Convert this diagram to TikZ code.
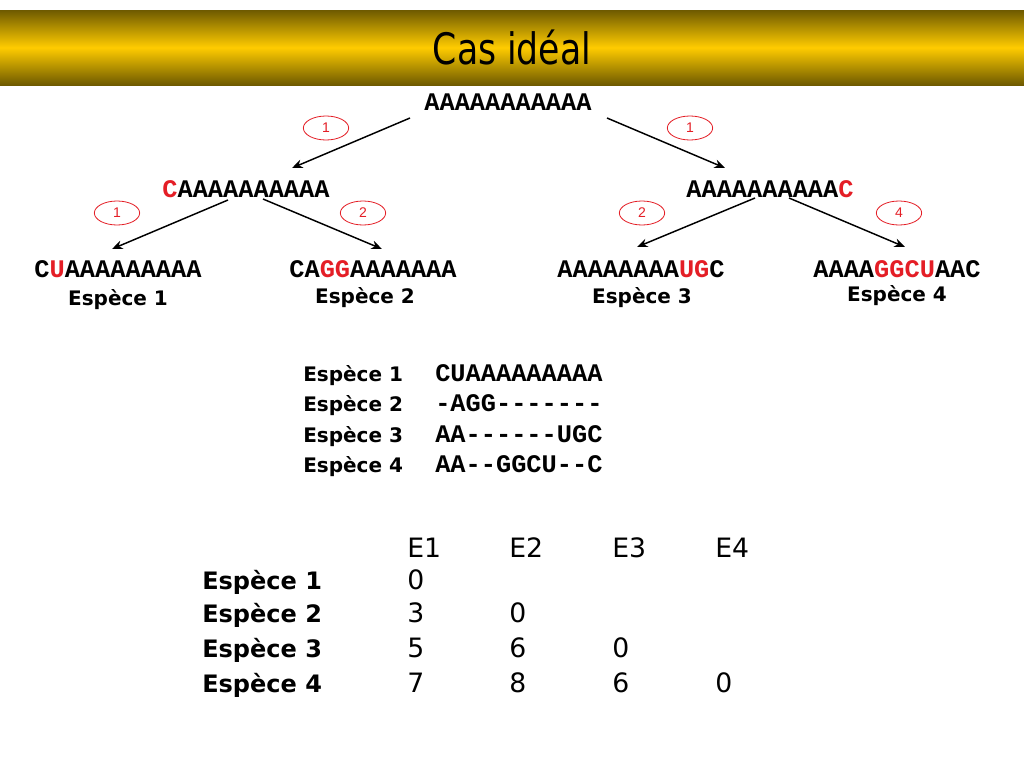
\documentclass[tikz,border=0pt]{standalone}
\usepackage{graphicx}
\usepackage{fontspec}
\setmainfont{DejaVu Sans}
\setmonofont{Liberation Mono}
\newfontfamily\numfont{Liberation Sans}
\usetikzlibrary{shapes,arrows,arrows.meta,calc}
\definecolor{mutred}{RGB}{228,30,38}
\definecolor{barbrown}{RGB}{110,90,0}
\definecolor{bargold}{RGB}{255,204,0}
\newcommand{\mt}[1]{\textcolor{mutred}{#1}}
\tikzset{%
	seq/.style     = {anchor=base, inner sep=0pt,
		font=\ttfamily\bfseries\fontsize{19}{20}\selectfont}, % Sequence
	spec/.style    = {anchor=base, inner sep=0pt,
		font=\bfseries\fontsize{15}{17}\selectfont}, % Species
	mut/.style     = {draw=mutred, ellipse, line width=0.6pt, minimum width=34pt,
		minimum height=18pt, inner sep=0pt, text=mutred,
		font=\numfont\fontsize{10.5}{12}\selectfont}, % Mutations
	rowname/.style = {anchor=base west, inner sep=0pt,
		font=\bfseries\fontsize{18}{20}\selectfont}, % Row of the matrix
	mat/.style     = {anchor=base west, inner sep=0pt,
		font=\fontsize{20}{22}\selectfont}, % Distance
	evol/.style    = {line width=1.1pt, -{Stealth[length=8pt,width=6.5pt]}} % Descent
}

\begin{document}
\begin{tikzpicture}[x=0.75pt,y=-0.75pt]
	\fill[white] (0,0) rectangle (1024,768);
	\useasboundingbox (0,0) rectangle (1024,768);
	\shade[top color=barbrown, bottom color=barbrown, middle color=bargold]
		(0,10) rectangle (1024,85);
	\node (title) at (512,47) {\scalebox{1}[1.25]{\fontsize{26}{30}\selectfont Cas idéal}};

	% tree
	\node[seq] (root) at (508,110) {AAAAAAAAAAA};
	\node[seq] (anc1) at (246,197) {\mt{C}AAAAAAAAAA};
	\node[seq] (anc2) at (770,197) {AAAAAAAAAA\mt{C}};
	\node[seq] (sp1)  at (118,277) {C\mt{U}AAAAAAAAA};
	\node[seq] (sp2)  at (373,277) {CA\mt{GG}AAAAAAA};
	\node[seq] (sp3)  at (641,277) {AAAAAAAA\mt{UG}C};
	\node[seq] (sp4)  at (897,277) {AAAA\mt{GGCU}AAC};

	\node[spec] (name1) at (118,305) {Espèce 1};
	\node[spec] (name2) at (365,303) {Espèce 2};
	\node[spec] (name3) at (642,303) {Espèce 3};
	\node[spec] (name4) at (897,301) {Espèce 4};

	\draw[evol] ($(root.base)+(-98,8)$) -- ($(anc1.base)+(46,-29)$);
	\draw[evol] ($(root.base)+(99,8)$)  -- ($(anc2.base)+(-45,-29)$);
	\draw[evol] ($(anc1.base)+(-18,3)$) -- ($(sp1.base)+(-6,-28)$);
	\draw[evol] ($(anc1.base)+(17,2)$)  -- ($(sp2.base)+(9,-28)$);
	\draw[evol] ($(anc2.base)+(-15,1)$) -- ($(sp3.base)+(-4,-30)$);
	\draw[evol] ($(anc2.base)+(19,1)$)  -- ($(sp4.base)+(8,-30)$);

	\node[mut] (n1) at (326,128) {1};
	\node[mut] (n2) at (690,128) {1};
	\node[mut] (n3) at (117,213) {1};
	\node[mut] (n4) at (363,213) {2};
	\node[mut] (n5) at (642,213) {2};
	\node[mut] (n6) at (899,213) {4};

	% alignment
	\node[spec, anchor=base west] (al1) at (303,381) {Espèce 1};
	\node[spec, anchor=base west] (al2) at (303,411) {Espèce 2};
	\node[spec, anchor=base west] (al3) at (303,442) {Espèce 3};
	\node[spec, anchor=base west] (al4) at (303,472) {Espèce 4};
	\node[seq, anchor=base west] (as1) at (435,381) {CUAAAAAAAAA};
	\node[seq, anchor=base west] (as2) at (435,411) {-AGG-------};
	\node[seq, anchor=base west] (as3) at (435,442) {AA------UGC};
	\node[seq, anchor=base west] (as4) at (435,472) {AA--GGCU--C};

	% distances
	\foreach \j/\x in {1/407,2/509,3/612,4/715}
		\node[mat] (e\j) at (\x,557) {E\j};
	\foreach \i/\y in {1/589,2/622,3/657,4/692}
		\node[rowname] (r\i) at (202,\y) {Espèce \i};
	\foreach \i/\j/\v in {1/1/0,2/1/3,2/2/0,3/1/5,3/2/6,3/3/0,4/1/7,4/2/8,4/3/6,4/4/0}
		\node[mat] (d\i\j) at (e\j.base west |- r\i.base) {\v};
\end{tikzpicture}
\end{document}
